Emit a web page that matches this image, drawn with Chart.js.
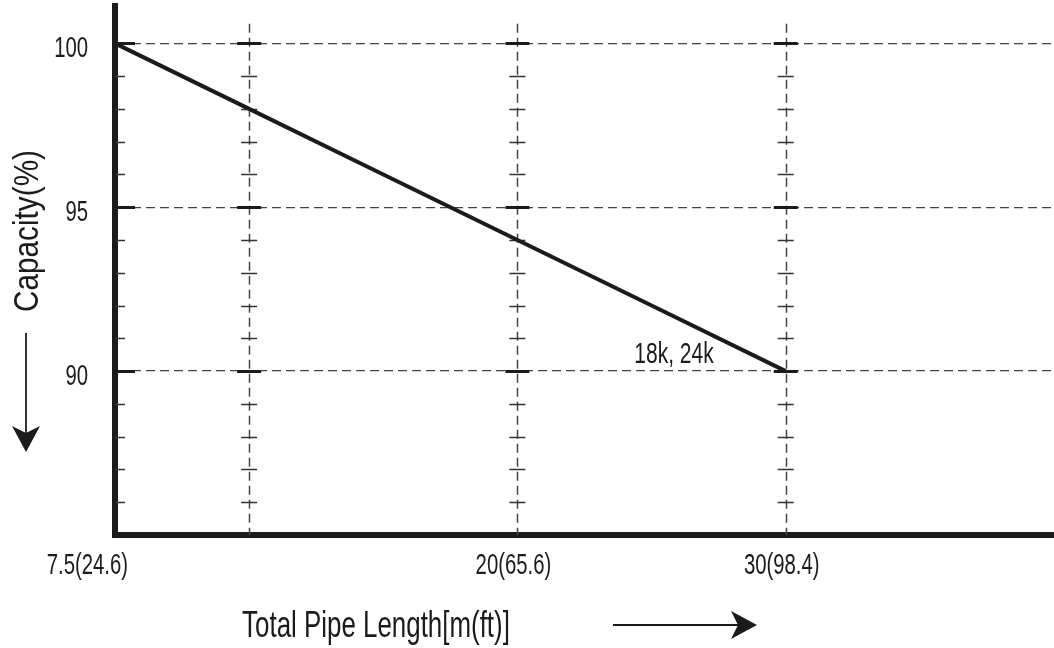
<!DOCTYPE html>
<html>
<head>
<meta charset="utf-8">
<script src="https://cdn.jsdelivr.net/npm/chart.js@4.4.0/dist/chart.umd.min.js"></script>
<style>
  html, body { margin: 0; padding: 0; background: #fff; }
  #wrap { width: 1054px; height: 648px; }
</style>
</head>
<body>
<div id="wrap"><canvas id="pipeChart" width="1054" height="648"></canvas></div>
<script>
// Chart data
// ----------------------------------------------
const lengthLabels   = ['7.5(24.6)', '', '', '20(65.6)', '', '30(98.4)', '', ''];
const capacityValues = [100, 98, 96, 94, 92, 90, null, null];
const capacityTicks  = [90, 95, 100];
const guideColumns   = [1, 3, 5];
const modelNote      = '18k, 24k';
const xTitle         = 'Total Pipe Length[m(ft)]';
const yTitle         = 'Capacity(%)';


// Styles
// ----------------------------------------------
const inkColor   = '#1b1b1b';
const dashColor  = '#444';
const fontFamily = "'Liberation Sans', Arial, Helvetica, sans-serif";
const squeeze    = 0.7;   // the source uses a condensed face


// Helpers
// ----------------------------------------------
const drawText = (ctx, text, x, y, size, sx, align, rotate) => {
    ctx.save();
    ctx.font = `${size}px ${fontFamily}`;
    ctx.textAlign = align;
    ctx.translate(x, y);
    if (rotate) ctx.rotate(rotate);
    ctx.scale(sx, 1);
    ctx.fillText(text, 0, 0);
    ctx.restore();
};

const drawArrow = (ctx, x1, y1, x2, y2) => {
    const len = Math.hypot(x2 - x1, y2 - y1);
    ctx.save();
    ctx.translate(x2, y2);
    ctx.rotate(Math.atan2(y2 - y1, x2 - x1));
    ctx.lineWidth = 1.8;
    ctx.beginPath();
    ctx.moveTo(-len, 0);
    ctx.lineTo(-18, 0);
    ctx.stroke();
    ctx.beginPath();
    ctx.moveTo(0, 0);
    ctx.lineTo(-26, -14);
    ctx.lineTo(-19, 0);
    ctx.lineTo(-26, 14);
    ctx.closePath();
    ctx.fill();
    ctx.restore();
};


// Guides, ticks, labels and titles
// ----------------------------------------------
const guidePlugin = {
    id: 'guides',
    beforeDatasetsDraw(chart) {
        const { ctx, chartArea, scales: { x, y } } = chart;
        const topTick = Math.max(...capacityTicks);
        const yTop = y.getPixelForValue(topTick + 0.6);

        ctx.save();
        // vertical dashed guides
        ctx.strokeStyle = dashColor;
        ctx.lineWidth = 1.5;
        ctx.setLineDash([9, 5]);
        guideColumns.forEach(i => {
            const px = Math.round(x.getPixelForValue(i)) + 0.5;
            ctx.beginPath();
            ctx.moveTo(px, yTop);
            ctx.lineTo(px, chartArea.bottom);
            ctx.stroke();
        });
        ctx.setLineDash([]);

        // small tick crosses on the axis and on the guides
        for (let v = y.min + 1; v <= topTick; v++) {
            const major = capacityTicks.includes(v);
            const py = Math.round(y.getPixelForValue(v)) + 0.5;
            ctx.strokeStyle = major ? inkColor : '#333';
            ctx.lineWidth = major ? 3 : 1.5;
            ctx.beginPath();
            ctx.moveTo(chartArea.left, py);
            ctx.lineTo(chartArea.left + (major ? 20 : 10), py);
            guideColumns.forEach(i => {
                const px = x.getPixelForValue(i);
                const half = major ? 12 : 8;
                ctx.moveTo(px - half, py);
                ctx.lineTo(px + half, py);
            });
            ctx.stroke();
        }
        ctx.restore();
    },
    afterDraw(chart) {
        const { ctx, chartArea, scales: { x, y } } = chart;
        ctx.save();
        ctx.fillStyle = inkColor;
        ctx.strokeStyle = inkColor;
        ctx.textBaseline = 'alphabetic';

        // y tick labels
        capacityTicks.forEach(v => {
            drawText(ctx, String(v), chartArea.left - 27, y.getPixelForValue(v) + 14, 29, squeeze, 'right');
        });

        // x tick labels
        lengthLabels.forEach((lab, i) => {
            if (!lab) return;
            const px = x.getPixelForValue(i);
            if (i === 0) drawText(ctx, lab, px + 13, chartArea.bottom + 39, 29, squeeze, 'right');
            else drawText(ctx, lab, px - 4, chartArea.bottom + 39, 29, squeeze, 'center');
        });

        // note beside the end of the line
        const last = capacityValues.reduce((k, v, i) => v != null ? i : k, 0);
        drawText(ctx, modelNote, x.getPixelForValue(last) - 72, y.getPixelForValue(capacityValues[last]) - 8, 30, squeeze, 'right');

        // x title + arrow
        drawText(ctx, xTitle, chartArea.left + 261, chartArea.bottom + 102, 37, squeeze, 'center');
        drawArrow(ctx, chartArea.left + 498, chartArea.bottom + 90, chartArea.left + 642, chartArea.bottom + 90);

        // y title + arrow
        ctx.textBaseline = 'middle';
        drawText(ctx, yTitle, 28, 231, 35, 0.85, 'center', -Math.PI / 2);
        drawArrow(ctx, 26, 333, 26, 452);

        ctx.restore();
    }
};


// Chart
// ----------------------------------------------
new Chart(document.getElementById('pipeChart'), {
    type: 'line',
    data: {
        labels: lengthLabels,
        datasets: [{
            data: capacityValues,
            borderColor: inkColor,
            borderWidth: 4,
            pointRadius: 0,
            tension: 0
        }]
    },
    options: {
        responsive: false,
        animation: false,
        devicePixelRatio: 1,
        layout: { padding: { top: 6, right: 0, bottom: 113, left: 0 } },
        plugins: {
            legend: { display: false },
            tooltip: { enabled: false }
        },
        scales: {
            x: {
                type: 'category',
                offset: false,
                grid: { display: false },
                border: { display: true, color: inkColor, width: 6 },
                ticks: { display: false },
                afterFit: s => { s.height = 0; s.paddingLeft = 0; s.paddingRight = 0; }
            },
            y: {
                min: 85,
                max: 101.14,
                ticks: { stepSize: 1, autoSkip: false, display: false },
                grid: {
                    drawTicks: false,
                    lineWidth: 1.3,
                    color: c => (c.tick && capacityTicks.includes(c.tick.value)) ? dashColor : 'transparent'
                },
                border: { color: inkColor, width: 6, dash: [9, 5] },
                afterFit: s => { s.width = 115; s.paddingTop = 0; s.paddingBottom = 0; }
            }
        }
    },
    plugins: [guidePlugin]
});
</script>
</body>
</html>
